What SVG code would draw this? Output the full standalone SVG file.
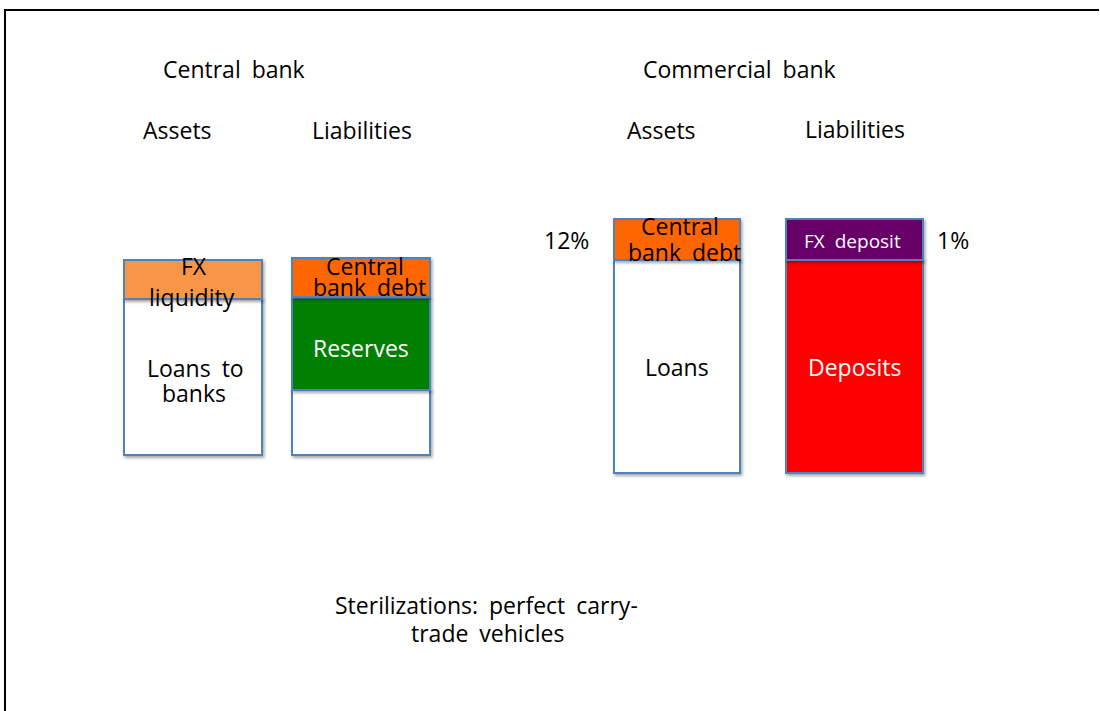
<svg xmlns="http://www.w3.org/2000/svg" width="1100" height="711" viewBox="0 0 1100 711">
<style>
.t{font-family:"Open Sans","Liberation Sans",sans-serif;font-size:23px;fill:#000;word-spacing:5px}
.w{fill:#fff}
.box{stroke:#4F81BD;stroke-width:2}
</style>
<defs>
<filter id="sh" x="-10%" y="-10%" width="130%" height="130%">
<feDropShadow dx="1.5" dy="2" stdDeviation="1.5" flood-color="#000" flood-opacity="0.35"/>
</filter>
</defs>
<rect width="1100" height="711" fill="#fff"/>
<path d="M5,711 V10 H1099" fill="none" stroke="#000" stroke-width="2"/>
<g id="titles">
<text class="t" x="163" y="78">Central bank</text>
<text class="t" x="643" y="78">Commercial bank</text>
<text class="t" x="143" y="139">Assets</text>
<text class="t" x="312" y="139">Liabilities</text>
<text class="t" x="627" y="139">Assets</text>
<text class="t" x="805" y="138">Liabilities</text>
</g>
<g id="cb-loans">
<rect class="box" x="124" y="299" width="138" height="156" fill="#fff" filter="url(#sh)"/>
<text class="t" x="147" y="377">Loans to</text>
<text class="t" x="162" y="402">banks</text>
</g>
<g id="cb-fx-liquidity">
<rect class="box" x="124" y="260" width="138" height="39" fill="#F79646" filter="url(#sh)"/>
<text class="t" x="181" y="275">FX</text>
<text class="t" x="149" y="306">liquidity</text>
</g>
<g id="cb-empty">
<rect class="box" x="292" y="390" width="138" height="65" fill="#fff" filter="url(#sh)"/>
</g>
<g id="cb-reserves">
<rect class="box" x="292" y="298" width="138" height="92" fill="#008000" filter="url(#sh)"/>
<text class="t w" x="313" y="357">Reserves</text>
</g>
<g id="cb-debt">
<rect class="box" x="292" y="258" width="138" height="39" fill="#FF6600" filter="url(#sh)"/>
<text class="t" x="326" y="275">Central</text>
<text class="t" x="313" y="296">bank debt</text>
</g>
<g id="com-loans">
<rect class="box" x="614" y="260" width="126" height="213" fill="#fff" filter="url(#sh)"/>
<text class="t" x="645" y="376">Loans</text>
</g>
<g id="com-debt">
<rect class="box" x="614" y="219" width="126" height="41" fill="#FF6600" filter="url(#sh)"/>
<text class="t" x="641" y="235">Central</text>
<text class="t" x="628" y="261">bank debt</text>
</g>
<g id="com-deposits">
<rect class="box" x="786" y="260" width="137" height="213" fill="#FF0000" filter="url(#sh)"/>
<text class="t w" x="808" y="376">Deposits</text>
</g>
<g id="com-fx-deposit">
<rect class="box" x="786" y="219" width="137" height="41" fill="#660066" filter="url(#sh)"/>
<text class="t w" x="804" y="248" style="font-size:19px">FX deposit</text>
</g>
<g id="pct">
<text class="t" x="544" y="249">12%</text>
<text class="t" x="937" y="249">1%</text>
</g>
<g id="caption">
<text class="t" x="335" y="614">Sterilizations: perfect carry-</text>
<text class="t" x="411" y="642">trade vehicles</text>
</g>
<g id="connectors"/>
</svg>
